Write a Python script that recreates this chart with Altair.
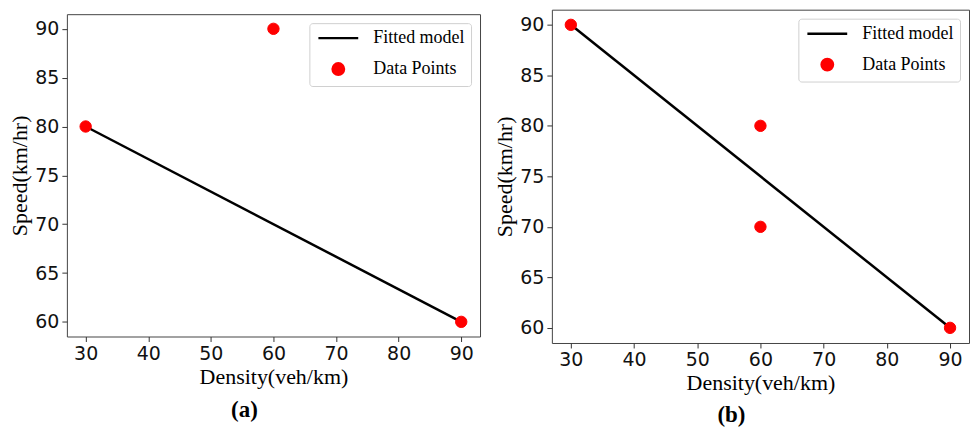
import altair as alt
import pandas as pd

series_names = ["Fitted model", "Data Points"]

a_pts_x = [30, 60, 90]
a_pts_y = [80, 90, 60]
a_fit_x = [30, 90]
a_fit_y = [80, 60]

b_pts_x = [30, 60, 60, 90]
b_pts_y = [90, 80, 70, 60]
b_fit_x = [30, 90]
b_fit_y = [90, 60]

x_ticks = [30, 40, 50, 60, 70, 80, 90]
y_ticks = [60, 65, 70, 75, 80, 85, 90]
x_domain = [27, 93]
y_domain = [58.5, 91.5]

SERIF = "Liberation Serif"
SANS = "DejaVu Sans"
LINE_SYMBOL = "M-3.5,0H3.5"


def panel(px, py, fx, fy, caption, w, h, cap_offset):
    pts = pd.DataFrame({"x": px, "y": py, "series": "Data Points"})
    fit = pd.DataFrame({"x": fx, "y": fy})
    xenc = alt.X("x:Q", title="Density(veh/km)",
                 scale=alt.Scale(domain=x_domain, nice=False, zero=False),
                 axis=alt.Axis(values=x_ticks, titlePadding=3))
    yenc = alt.Y("y:Q", title="Speed(km/hr)",
                 scale=alt.Scale(domain=y_domain, nice=False, zero=False),
                 axis=alt.Axis(values=y_ticks, titlePadding=3))
    line = alt.Chart(fit).mark_line(color="black", strokeWidth=2.5).encode(x=xenc, y=yenc)
    leg = alt.Legend(title=None, orient="top-right", offset=9,
                     labelFont=SERIF, labelFontSize=18, labelColor="black",
                     strokeColor="#d0d0d0", fillColor="white", cornerRadius=3,
                     padding=6, rowPadding=11, labelOffset=26, symbolOffset=14,
                     symbolStrokeWidth=2.5, symbolSize=130)
    dom = series_names
    points = alt.Chart(pts).mark_point(filled=True, opacity=1, strokeWidth=1, size=130).encode(
        x=xenc, y=yenc,
        fill=alt.Fill("series:N", scale=alt.Scale(domain=dom, range=["black", "red"]), legend=leg),
        stroke=alt.Stroke("series:N", scale=alt.Scale(domain=dom, range=["black", "red"]), legend=leg),
        shape=alt.Shape("series:N", scale=alt.Scale(domain=dom, range=[LINE_SYMBOL, "circle"]), legend=leg),
    )
    return alt.layer(line, points).properties(
        width=w, height=h,
        title=alt.TitleParams(caption, orient="bottom", font=SERIF, fontSize=23,
                              fontWeight="bold", frame="bounds", anchor="middle",
                              offset=cap_offset, color="black"),
    )


a = panel(a_pts_x, a_pts_y, a_fit_x, a_fit_y, "(a)", 414, 323, 12)
b = panel(b_pts_x, b_pts_y, b_fit_x, b_fit_y, "(b)", 418, 334, 10)

chart = alt.hconcat(a, b, spacing=12, center=True).resolve_scale(
    fill="independent", stroke="independent", shape="independent"
).resolve_legend(
    fill="independent", stroke="independent", shape="independent"
).properties(padding=0).configure_view(
    stroke="#444", strokeWidth=1
).configure_axis(
    domain=False, grid=False, ticks=True, tickColor="#333", tickSize=5, tickWidth=1,
    labelFont=SANS, labelFontSize=19, labelColor="#111", labelPadding=3,
    titleFont=SERIF, titleFontSize=22, titleFontWeight="normal", titleColor="black",
)

chart.save("out.html", embed_options={"renderer": "svg", "actions": False})
